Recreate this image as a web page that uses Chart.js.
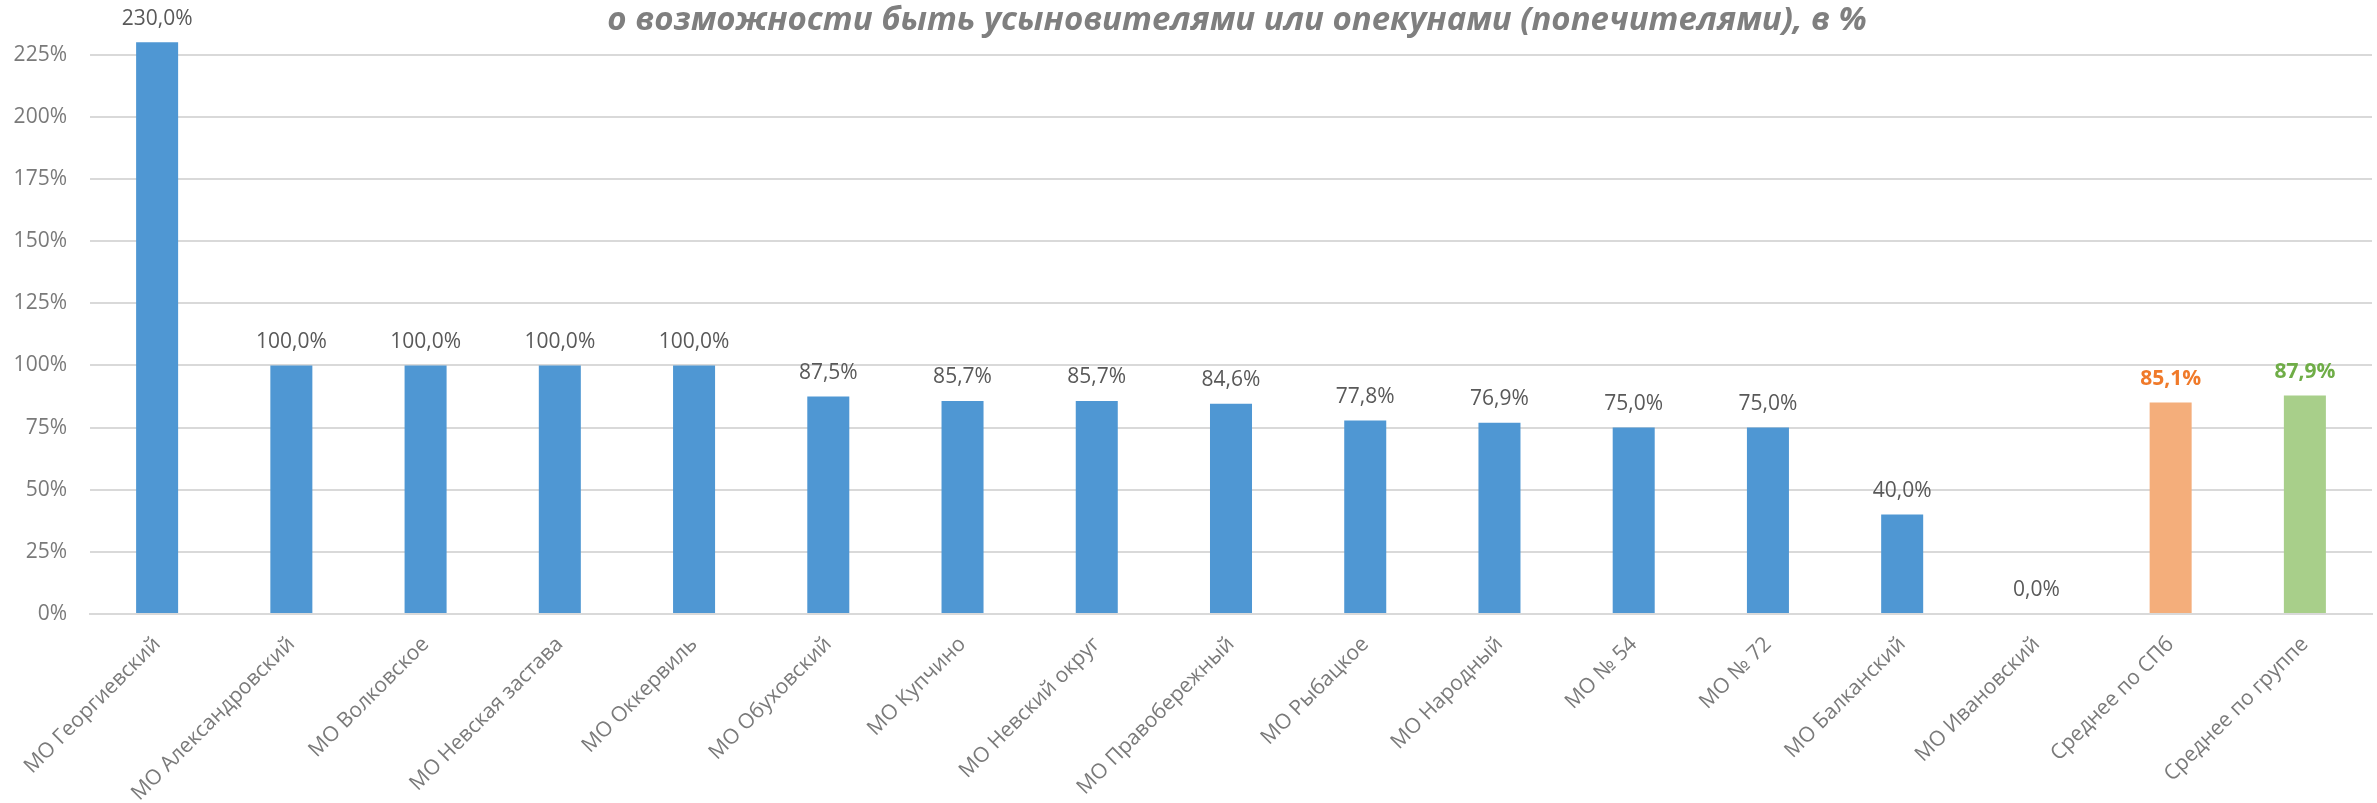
<!DOCTYPE html>
<html lang="ru">
<head>
<meta charset="utf-8">
<title>Усыновители и опекуны</title>
<script src="https://cdn.jsdelivr.net/npm/chart.js@4/dist/chart.umd.min.js"></script>
<style>
	html, body { margin: 0; padding: 0; background: #ffffff; }
	#wrap { width: 2377px; height: 803px; position: relative; }
</style>
</head>
<body>
<div id="wrap"><canvas id="grafico"></canvas></div>
<script>
	const titulo = 'о возможности быть усыновителями или опекунами (попечителями), в %';

	const categorias = [
		'МО Георгиевский', 'МО Александровский', 'МО Волковское', 'МО Невская застава',
		'МО Оккервиль', 'МО Обуховский', 'МО Купчино', 'МО Невский округ',
		'МО Правобережный', 'МО Рыбацкое', 'МО Народный', 'МО № 54', 'МО № 72',
		'МО Балканский', 'МО Ивановский', 'Среднее по СПб', 'Среднее по группе'
	];
	const valores = [230.0, 100.0, 100.0, 100.0, 100.0, 87.5, 85.7, 85.7, 84.6, 77.8, 76.9, 75.0, 75.0, 40.0, 0.0, 85.1, 87.9];
	const ticksY = [0, 25, 50, 75, 100, 125, 150, 175, 200, 225];

	const corMO = '#4F97D3';
	const corSpb = '#F4AE7B';
	const corGrupo = '#A8CF8A';
	const corRotuloSpb = '#F07A2A';
	const corRotuloGrupo = '#6FAD47';
	const corTexto = '#595959';
	const corEixo = '#7A7A7A';
	const corGrade = '#D9D9D9';
	const fonte = '"Open Sans", "Noto Sans", sans-serif';

	const coresBarras = categorias.map((c) => {
		if (c === 'Среднее по СПб') return corSpb;
		if (c === 'Среднее по группе') return corGrupo;
		return corMO;
	});

	// rótulos de valor acima das barras, formato "85,1%"
	const rotulosValor = {
		id: 'rotulosValor',
		afterDatasetsDraw(chart) {
			const ctx = chart.ctx;
			const meta = chart.getDatasetMeta(0);
			ctx.save();
			ctx.textAlign = 'center';
			ctx.textBaseline = 'bottom';
			meta.data.forEach((bar, i) => {
				const nome = categorias[i];
				let cor = corTexto;
				let peso = 'normal';
				if (nome === 'Среднее по СПб') { cor = corRotuloSpb; peso = 'bold'; }
				if (nome === 'Среднее по группе') { cor = corRotuloGrupo; peso = 'bold'; }
				ctx.fillStyle = cor;
				ctx.font = `${peso} 21px ${fonte}`;
				const texto = valores[i].toFixed(1).replace('.', ',') + '%';
				ctx.fillText(texto, bar.x, bar.y - 13);
			});
			ctx.restore();
		}
	};

	// título em itálico no topo
	const tituloTopo = {
		id: 'tituloTopo',
		afterDraw(chart) {
			const ctx = chart.ctx;
			const area = chart.chartArea;
			ctx.save();
			ctx.fillStyle = '#7F7F7F';
			ctx.font = `italic bold 33px ${fonte}`;
			ctx.textAlign = 'center';
			ctx.textBaseline = 'middle';
			ctx.fillText(titulo, (area.left + area.right) / 2 + 6, 21);
			ctx.restore();
		}
	};

	const ctxGrafico = document.getElementById('grafico').getContext('2d');

	const grafico = new Chart(ctxGrafico, {
		type: 'bar',
		data: {
			labels: categorias,
			datasets: [{
				data: valores,
				backgroundColor: coresBarras,
				borderWidth: 0,
				barPercentage: 0.313,
				categoryPercentage: 1.0
			}]
		},
		options: {
			responsive: true,
			maintainAspectRatio: false,
			animation: false,
			layout: { padding: { left: 0, right: 5, top: 0, bottom: 0 } },
			scales: {
				x: {
					grid: { display: false },
					border: { color: corGrade, width: 2 },
					afterFit: (eixo) => {
						eixo.paddingLeft = 0;
						eixo.paddingRight = 0;
						eixo.height = 189;
					},
					ticks: {
						color: corEixo,
						font: { family: fonte, size: 21 },
						maxRotation: 45,
						minRotation: 45,
						autoSkip: false,
						padding: 10
					}
				},
				y: {
					min: 0,
					max: 247,
					grid: { color: corGrade, lineWidth: 2, drawTicks: false },
					border: { display: false },
					afterBuildTicks: (eixo) => {
						eixo.ticks = ticksY.map(v => ({ value: v }));
					},
					afterFit: (eixo) => {
						eixo.paddingTop = 0;
						eixo.paddingBottom = 0;
						eixo.width = 90;
					},
					ticks: {
						color: corEixo,
						font: { family: fonte, size: 21 },
						padding: 23,
						callback: (valor) => valor + '%'
					}
				}
			},
			plugins: {
				legend: { display: false },
				tooltip: { enabled: false }
			}
		},
		plugins: [rotulosValor, tituloTopo]
	});
</script>
</body>
</html>
